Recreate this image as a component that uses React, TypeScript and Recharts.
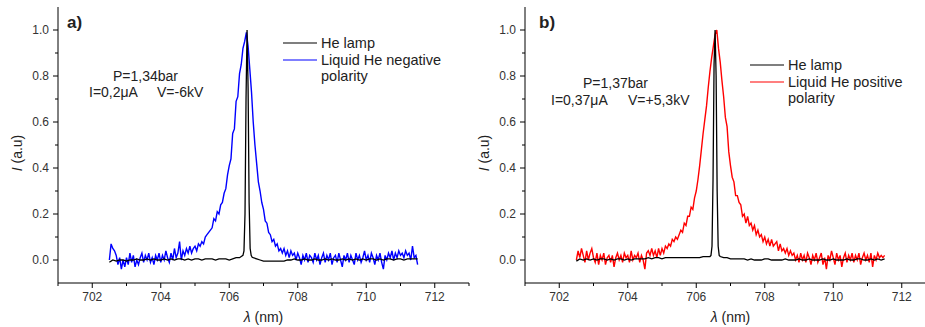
import React from "react";
import { LineChart, Line, XAxis, YAxis, Label } from "recharts";

const FONT = '"Liberation Sans", Arial, Helvetica, sans-serif';
const INK = "#222";

// sampling grid of the liquid He spectra (nm)
const liquidWavelengths = [
  702.5, 702.55, 702.6, 702.65, 702.7, 702.75, 702.8, 702.85, 702.9, 702.95,
  703, 703.05, 703.1, 703.15, 703.2, 703.25, 703.3, 703.35, 703.4, 703.45,
  703.5, 703.55, 703.6, 703.65, 703.7, 703.75, 703.8, 703.85, 703.9, 703.95,
  704, 704.05, 704.1, 704.15, 704.2, 704.25, 704.3, 704.35, 704.4, 704.45,
  704.5, 704.55, 704.6, 704.65, 704.7, 704.75, 704.8, 704.85, 704.9, 704.95,
  705, 705.05, 705.1, 705.15, 705.2, 705.25, 705.3, 705.35, 705.4, 705.45,
  705.5, 705.55, 705.6, 705.65, 705.7, 705.75, 705.8, 705.85, 705.9, 705.95,
  706, 706.05, 706.1, 706.15, 706.2, 706.25, 706.3, 706.35, 706.4, 706.45,
  706.5, 706.55, 706.6, 706.65, 706.7, 706.75, 706.8, 706.85, 706.9, 706.95,
  707, 707.05, 707.1, 707.15, 707.2, 707.25, 707.3, 707.35, 707.4, 707.45,
  707.5, 707.55, 707.6, 707.65, 707.7, 707.75, 707.8, 707.85, 707.9, 707.95,
  708, 708.05, 708.1, 708.15, 708.2, 708.25, 708.3, 708.35, 708.4, 708.45,
  708.5, 708.55, 708.6, 708.65, 708.7, 708.75, 708.8, 708.85, 708.9, 708.95,
  709, 709.05, 709.1, 709.15, 709.2, 709.25, 709.3, 709.35, 709.4, 709.45,
  709.5, 709.55, 709.6, 709.65, 709.7, 709.75, 709.8, 709.85, 709.9, 709.95,
  710, 710.05, 710.1, 710.15, 710.2, 710.25, 710.3, 710.35, 710.4, 710.45,
  710.5, 710.55, 710.6, 710.65, 710.7, 710.75, 710.8, 710.85, 710.9, 710.95,
  711, 711.05, 711.1, 711.15, 711.2, 711.25, 711.3, 711.35, 711.4, 711.45,
  711.5,
];

// a) liquid He, negative polarity
const negativePolarity = [
  0, 0.07, 0.05, 0.04, 0.02, -0.02, 0.01, -0.04, 0, -0.03,
  0.01, -0.02, 0.03, -0.01, 0.02, -0.03, 0, -0.02, 0.01, 0.03,
  -0.01, 0.02, 0, 0.03, -0.01, 0.01, -0.02, 0.02, 0, 0.03,
  -0.01, 0.02, 0, 0.04, 0.01, -0.01, 0.03, 0, 0.05, 0.01,
  0.03, 0.08, 0, 0.04, 0.02, 0.05, 0.03, 0.06, 0.03, 0.05,
  0.06, 0.04, 0.07, 0.06, 0.08, 0.07, 0.1, 0.11, 0.12, 0.13,
  0.14, 0.18, 0.17, 0.21, 0.2, 0.24, 0.25, 0.29, 0.31, 0.37,
  0.41, 0.44, 0.55, 0.57, 0.69, 0.71, 0.81, 0.85, 0.92, 0.95,
  0.99, 0.93, 0.83, 0.73, 0.6, 0.5, 0.42, 0.34, 0.3, 0.25,
  0.22, 0.17, 0.16, 0.12, 0.11, 0.08, 0.09, 0.06, 0.07, 0.04,
  0.05, 0.03, 0.05, 0.02, 0.04, 0.01, 0.04, 0.02, 0.03, 0,
  0.03, 0.01, -0.02, 0.02, 0, 0.03, -0.01, 0.02, 0.01, -0.01,
  0.03, 0, 0.02, -0.02, 0.01, 0.03, -0.01, 0.02, 0, 0.03,
  -0.02, 0.01, 0.02, -0.01, 0.03, 0, -0.03, 0.02, 0, 0.03,
  -0.01, 0.02, 0, -0.02, 0.03, 0, 0.02, -0.01, 0.01, 0.04,
  0, 0.02, -0.01, 0.03, 0.01, -0.02, 0.02, 0, 0.03, -0.01,
  -0.04, 0.02, 0, 0.03, 0.01, 0.04, 0, 0.03, 0.01, 0.04,
  0.02, 0.03, 0.01, 0.04, 0.02, 0.03, 0, 0.06, 0.01, 0.02,
  -0.02,
];

// b) liquid He, positive polarity
const positivePolarity = [
  0, 0.04, 0.01, 0.05, 0.02, -0.01, 0.04, 0, 0.03, 0.05,
  0.01, -0.01, 0.03, -0.02, 0.02, 0, 0.03, -0.02, 0.01, 0.02,
  -0.01, 0.02, -0.03, 0.01, 0.03, 0, 0.02, -0.01, 0.03, 0.01,
  0.02, -0.01, 0.04, 0, 0.02, 0.01, 0.03, -0.01, 0.02, 0,
  -0.04, 0.03, 0.04, 0.02, 0.05, 0.02, 0.04, 0.01, 0.05, 0.02,
  0.05, 0.03, 0.06, 0.05, 0.07, 0.06, 0.09, 0.08, 0.1, 0.09,
  0.11, 0.13, 0.12, 0.16, 0.15, 0.19, 0.19, 0.23, 0.22, 0.27,
  0.3, 0.35, 0.41, 0.48, 0.55, 0.61, 0.67, 0.75, 0.82, 0.88,
  0.93, 0.98, 1.0, 0.92, 0.86, 0.78, 0.71, 0.62, 0.58, 0.47,
  0.41, 0.36, 0.34, 0.28, 0.28, 0.25, 0.24, 0.19, 0.2, 0.16,
  0.19, 0.15, 0.16, 0.13, 0.15, 0.11, 0.13, 0.1, 0.11, 0.08,
  0.1, 0.07, 0.09, 0.06, 0.09, 0.06, 0.07, 0.08, 0.04, 0.07,
  0.04, 0.05, 0.03, 0.05, 0.02, 0.04, 0.02, 0.03, 0, 0.02,
  -0.01, 0.03, 0, 0.02, -0.01, 0.03, 0.01, -0.02, 0.02, 0,
  0.03, -0.01, 0.01, 0.03, -0.02, 0.01, -0.04, 0.02, 0, 0.04,
  0.01, -0.02, 0.03, 0, 0.02, -0.03, 0.01, 0.03, -0.01, 0.02,
  0, 0.03, -0.01, 0.02, 0, 0.03, -0.02, 0.01, 0.03, 0,
  0.02, -0.01, 0.03, -0.03, 0.02, 0, 0.03, 0.01, 0.02, 0.01,
  0.02,
];

// He lamp grid, denser around the 706.5 nm line
const lampWavelengths = [
  702.5, 702.6, 702.7, 702.8, 702.9, 703, 703.1, 703.2, 703.3, 703.4,
  703.5, 703.6, 703.7, 703.8, 703.9, 704, 704.1, 704.2, 704.3, 704.4,
  704.5, 704.6, 704.7, 704.8, 704.9, 705, 705.1, 705.2, 705.3, 705.4,
  705.5, 705.6, 705.7, 705.8, 705.9, 706, 706.1, 706.2, 706.3,
  706.35, 706.4, 706.43, 706.46, 706.49, 706.52, 706.55, 706.58, 706.61, 706.64, 706.67, 706.7,
  706.8, 706.9, 707, 707.1, 707.2, 707.3, 707.4, 707.5, 707.6, 707.7,
  707.8, 707.9, 708, 708.1, 708.2, 708.3, 708.4, 708.5, 708.6, 708.7,
  708.8, 708.9, 709, 709.1, 709.2, 709.3, 709.4, 709.5, 709.6, 709.7,
  709.8, 709.9, 710, 710.1, 710.2, 710.3, 710.4, 710.5, 710.6, 710.7,
  710.8, 710.9, 711, 711.1, 711.2, 711.3, 711.4, 711.5,
];

const lampA = [
  -0.01, 0, -0.005, 0, 0, -0.005, 0, 0, 0.005, 0,
  0, 0.005, 0, 0.005, 0, 0, 0.005, 0, 0.005, 0,
  0.005, 0.005, 0, 0.005, 0, 0.005, 0.005, 0, 0.005, 0.005,
  0.005, 0, 0.005, 0.005, 0.005, 0, 0.005, 0.01, 0.01,
  0.015, 0.02, 0.04, 0.2, 0.7, 1.0, 0.75, 0.25, 0.05, 0.02, 0.012, 0.01,
  0.005, 0, -0.005, -0.005, -0.005, -0.005, -0.005, -0.005, -0.005, 0,
  0, 0.005, 0, 0, 0.005, 0, 0, 0.005, 0, 0,
  0.005, 0, 0.005, 0, 0, 0.005, 0, 0.005, 0, 0.005,
  0, 0.005, 0, 0.005, 0.005, 0, 0.005, 0, 0.005, 0.005,
  0, 0.005, 0.005, 0, 0.005, 0.005, 0.005, 0.005,
];

const lampB = [
  -0.005, 0.005, 0, 0.005, 0, 0.005, 0, 0.005, 0.005, 0,
  0.005, 0, 0.005, 0.005, 0, 0.005, 0, 0.005, 0.005, 0.005,
  0.005, 0.01, 0.005, 0.01, 0.01, 0.005, 0.01, 0.01, 0.01, 0.01,
  0.01, 0.01, 0.01, 0.01, 0.01, 0.01, 0.01, 0.015, 0.015,
  0.015, 0.015, 0.02, 0.06, 0.35, 0.85, 1.0, 0.8, 0.3, 0.06, 0.02, 0.015,
  0.01, 0.01, 0.005, 0.005, 0.005, 0.005, 0.005, 0, 0.005, 0,
  0, 0, 0.005, 0.005, 0, 0, 0, 0, 0.005, 0,
  0, 0, 0.005, 0, 0, 0.005, 0, 0, 0, 0.005,
  0, 0, 0.005, 0, 0, 0, 0.005, 0, 0, 0.005,
  0.005, 0, 0, 0.005, 0, 0.005, 0, 0.005,
];

const xTicks = [701, 702, 703, 704, 705, 706, 707, 708, 709, 710, 711, 712, 713];
const yTicks = [0, 0.1, 0.2, 0.3, 0.4, 0.5, 0.6, 0.7, 0.8, 0.9, 1.0];

const toPoints = (xs: number[], ys: number[]) => xs.map((x, i) => ({ x, y: ys[i] }));

const isMajorX = (v: number) => Math.round(v) % 2 === 0;
const isMajorY = (v: number) => Math.round(v * 10) % 2 === 0;

const BottomTick = ({ x, y, payload }: any) => {
  const major = isMajorX(payload.value);
  return (
    <g>
      <line x1={x} x2={x} y1={y} y2={y + (major ? 5 : 3)} stroke="#000" />
      {major && (
        <text x={x} y={y + 14} textAnchor="middle" dominantBaseline="central" fontSize={12} fill="#333" fontFamily={FONT}>
          {payload.value}
        </text>
      )}
    </g>
  );
};

const TopTick = ({ x, y, payload }: any) => (
  <line x1={x} x2={x} y1={y} y2={y - (isMajorX(payload.value) ? 4 : 2)} stroke="#000" />
);

const LeftTick = ({ x, y, payload }: any) => {
  const major = isMajorY(payload.value);
  return (
    <g>
      <line x1={x} x2={x - (major ? 5 : 3)} y1={y} y2={y} stroke="#000" />
      {major && (
        <text x={x - 9} y={y} textAnchor="end" dominantBaseline="central" fontSize={12} fill="#333" fontFamily={FONT}>
          {payload.value.toFixed(1)}
        </text>
      )}
    </g>
  );
};

const RightTick = ({ x, y, payload }: any) => (
  <line x1={x} x2={x + (isMajorY(payload.value) ? 4 : 2)} y1={y} y2={y} stroke="#000" />
);

const XTitle = (props: any) => {
  const vb = props.viewBox || { x: 58, y: 283, width: 411, height: 30 };
  return (
    <text x={vb.x + vb.width / 2} y={vb.y + 34} textAnchor="middle" dominantBaseline="central" fontSize={14} fill={INK} fontFamily={FONT}>
      <tspan fontStyle="italic">λ</tspan> (nm)
    </text>
  );
};

const YTitle = (props: any) => {
  const vb = props.viewBox || { x: 18, y: 7, width: 40, height: 276 };
  const cx = vb.x + vb.width - 41;
  const cy = vb.y + vb.height / 2 + 8;
  return (
    <text x={cx} y={cy} transform={`rotate(-90, ${cx}, ${cy})`} textAnchor="middle" dominantBaseline="central" fontSize={14} fill={INK} fontFamily={FONT}>
      <tspan fontStyle="italic">I</tspan> (a.u)
    </text>
  );
};

const AXIS = { stroke: "#000", strokeWidth: 1 };

type Note = { text: string; left: number; cy: number; bold?: boolean; size?: number };

type PanelProps = {
  left: number;
  lamp: number[];
  liquid: number[];
  liquidColor: string;
  liquidName: string;
  legendLeft: number;
  legendTop: number;
  notes: Note[];
};

function SpectrumPanel({ left, lamp, liquid, liquidColor, liquidName, legendLeft, legendTop, notes }: PanelProps) {
  const lampData = toPoints(lampWavelengths, lamp);
  const liquidData = toPoints(liquidWavelengths, liquid);
  const rows = [
    { color: "#000", label: "He lamp" },
    { color: liquidColor, label: liquidName },
    { color: null, label: "polarity" },
  ];
  return (
    <>
      <div style={{ position: "absolute", left, top: 0 }}>
        <LineChart width={480} height={327} margin={{ top: 7, right: 11, bottom: 14, left: 18 }}>
          <XAxis
            dataKey="x"
            type="number"
            domain={[701, 713]}
            ticks={xTicks}
            interval={0}
            height={30}
            tickSize={0}
            tickMargin={0}
            tickLine={false}
            axisLine={AXIS}
            tick={BottomTick}
            label={<Label content={XTitle} />}
          />
          <XAxis
            xAxisId="top"
            orientation="top"
            type="number"
            domain={[701, 713]}
            ticks={xTicks}
            interval={0}
            height={0}
            tickSize={0}
            tickMargin={0}
            tickLine={false}
            axisLine={AXIS}
            tick={TopTick}
          />
          <YAxis
            type="number"
            domain={[-0.1, 1.1]}
            ticks={yTicks}
            interval={0}
            width={40}
            tickSize={0}
            tickMargin={0}
            tickLine={false}
            axisLine={AXIS}
            tick={LeftTick}
            label={<Label content={YTitle} />}
          />
          <YAxis
            yAxisId="right"
            orientation="right"
            type="number"
            domain={[-0.1, 1.1]}
            ticks={yTicks}
            interval={0}
            width={0}
            tickSize={0}
            tickMargin={0}
            tickLine={false}
            axisLine={AXIS}
            tick={RightTick}
          />
          <Line data={liquidData} dataKey="y" type="linear" stroke={liquidColor} strokeWidth={1.4} dot={false} isAnimationActive={false} />
          <Line data={lampData} dataKey="y" type="linear" stroke="#000" strokeWidth={1.3} dot={false} isAnimationActive={false} />
        </LineChart>
      </div>
      {notes.map((n) => (
        <div
          key={n.text}
          style={{
            position: "absolute",
            left: n.left,
            top: n.cy - 10,
            lineHeight: "20px",
            fontSize: n.size ?? 14,
            fontWeight: n.bold ? 700 : 400,
            color: INK,
            fontFamily: FONT,
            whiteSpace: "pre",
          }}
        >
          {n.text}
        </div>
      ))}
      <div style={{ position: "absolute", left: legendLeft, top: legendTop, fontFamily: FONT, fontSize: 14.5, color: INK }}>
        {rows.map((r) => (
          <div key={r.label} style={{ display: "flex", alignItems: "center", height: 16.5, whiteSpace: "nowrap" }}>
            <svg width={38} height={4} style={{ flex: "none" }}>
              {r.color && <line x1={0} x2={34} y1={2} y2={2} stroke={r.color} strokeWidth={1.2} />}
            </svg>
            <span>{r.label}</span>
          </div>
        ))}
      </div>
    </>
  );
}

export default function App() {
  return (
    <div style={{ position: "absolute", left: 0, top: 0, width: 925, height: 327, overflow: "hidden", background: "#fff" }}>
      <SpectrumPanel
        left={0}
        lamp={lampA}
        liquid={negativePolarity}
        liquidColor="#0000ff"
        liquidName="Liquid He negative"
        legendLeft={283}
        legendTop={35}
        notes={[
          { text: "a)", left: 67, cy: 23, bold: true, size: 17 },
          { text: "P=1,34bar", left: 113, cy: 76 },
          { text: "I=0,2μA", left: 89, cy: 92 },
          { text: "V=-6kV", left: 157, cy: 92 },
        ]}
      />
      <SpectrumPanel
        left={467}
        lamp={lampB}
        liquid={positivePolarity}
        liquidColor="#ff0000"
        liquidName="Liquid He positive"
        legendLeft={750}
        legendTop={57}
        notes={[
          { text: "b)", left: 539, cy: 23, bold: true, size: 17 },
          { text: "P=1,37bar", left: 583, cy: 83 },
          { text: "I=0,37μA", left: 551, cy: 100 },
          { text: "V=+5,3kV", left: 628, cy: 100 },
        ]}
      />
    </div>
  );
}
